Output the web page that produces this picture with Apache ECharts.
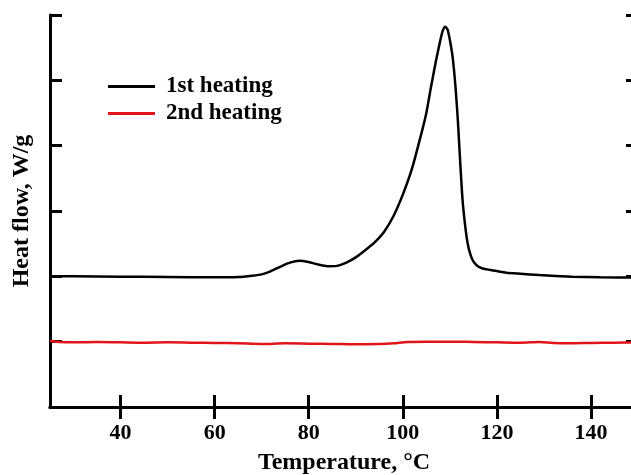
<!DOCTYPE html>
<html>
<head>
<meta charset="utf-8">
<script src="https://cdn.jsdelivr.net/npm/echarts@6/dist/echarts.min.js"></script>
<style>html,body{margin:0;padding:0;background:#fff}#c{width:631px;height:475px}</style>
</head>
<body>
<div id="c"></div>
<script>
var seriesNames = ['1st heating', '2nd heating'];
var xTicks = [40, 60, 80, 100, 120, 140];
var temp1 = [25, 30, 40, 50, 60, 65, 68, 70, 72, 74, 76, 78, 80, 82, 84, 86, 88, 90, 92, 94, 96, 98, 100, 102, 104, 105, 106, 107, 108, 108.5, 109, 109.5, 110, 110.6, 111.2, 111.7, 112.2, 112.7, 113.3, 113.8, 114.4, 115, 116, 117, 118.4, 120, 122, 125, 129, 136, 142, 150];
var flow1 = [2.0, 2.0, 1.995, 1.99, 1.985, 1.99, 2.01, 2.03, 2.08, 2.15, 2.21, 2.24, 2.22, 2.18, 2.155, 2.16, 2.21, 2.29, 2.40, 2.52, 2.68, 2.92, 3.25, 3.66, 4.2, 4.5, 4.9, 5.28, 5.62, 5.76, 5.82, 5.78, 5.62, 5.35, 4.9, 4.39, 3.75, 3.17, 2.75, 2.5, 2.33, 2.23, 2.15, 2.12, 2.10, 2.08, 2.056, 2.04, 2.02, 1.995, 1.985, 1.98];
var temp2 = [25, 27, 30, 35, 40, 45, 50, 55, 60, 65, 70, 75, 80, 85, 90, 95, 98, 101, 105, 110, 115, 120, 125, 129, 132, 135, 140, 145, 150];
var flow2 = [1.01, 0.995, 0.99, 0.995, 0.99, 0.985, 0.99, 0.985, 0.98, 0.975, 0.965, 0.975, 0.97, 0.965, 0.96, 0.965, 0.975, 0.995, 1.0, 1.0, 0.995, 0.99, 0.985, 0.995, 0.98, 0.975, 0.98, 0.985, 0.99];

function pairs(xs, ys) { return xs.map(function (x, i) { return [x, ys[i]]; }); }

var font = 'Liberation Serif';
var axisLine = { show: true, lineStyle: { color: '#000', width: 3 } };
function ticks(vals) {
  var t = { show: true, inside: true, length: 12, lineStyle: { color: '#000', width: 3 } };
  if (vals) t.customValues = vals;
  return t;
}

var chart = echarts.init(document.getElementById('c'));
chart.setOption({
  animation: false,
  backgroundColor: '#fff',
  grid: { left: 50, top: 15, width: 588, height: 392, containLabel: false, outerBoundsMode: 'none' },
  legend: {
    orient: 'vertical', left: 108, top: 75, padding: 0, itemWidth: 47, itemHeight: 3, itemGap: 4,
    icon: 'rect',
    textStyle: { fontFamily: font, fontWeight: 'bold', fontSize: 23, color: '#000', padding: [0, 0, 0, 6] },
    data: seriesNames
  },
  xAxis: [{
    type: 'value', position: 'bottom', min: 25, max: 150,
    axisLine: axisLine, axisTick: ticks(xTicks), splitLine: { show: false },
    axisLabel: {
      margin: 15, fontFamily: font, fontWeight: 'bold', fontSize: 22, color: '#000',
      customValues: xTicks
    },
    name: 'Temperature, °C', nameLocation: 'middle', nameGap: 44,
    nameTextStyle: { fontFamily: font, fontWeight: 'bold', fontSize: 24, color: '#000' }
  }, {
    type: 'value', position: 'top', min: 25, max: 150,
    axisLine: axisLine, axisTick: ticks(xTicks), splitLine: { show: false },
    axisLabel: { show: false, customValues: xTicks }
  }],
  yAxis: [{
    type: 'value', position: 'left', min: 0, max: 6, interval: 1,
    axisLine: axisLine, axisTick: ticks(), splitLine: { show: false },
    axisLabel: { show: false },
    name: 'Heat flow, W/g', nameLocation: 'middle', nameGap: 16,
    nameTextStyle: { fontFamily: font, fontWeight: 'bold', fontSize: 24, color: '#000' }
  }, {
    type: 'value', position: 'right', min: 0, max: 6, interval: 1,
    axisLine: axisLine, axisTick: ticks(), splitLine: { show: false },
    axisLabel: { show: false }
  }],
  series: [{
    name: seriesNames[0], type: 'line', data: pairs(temp1, flow1),
    showSymbol: false, symbol: 'none', smooth: 0.2,
    lineStyle: { color: '#000', width: 2.5 }, itemStyle: { color: '#000' }
  }, {
    name: seriesNames[1], type: 'line', data: pairs(temp2, flow2),
    showSymbol: false, symbol: 'none', smooth: 0.3,
    lineStyle: { color: '#e0151b', width: 2.5 }, itemStyle: { color: '#e0151b' }
  }]
});
</script>
</body>
</html>
